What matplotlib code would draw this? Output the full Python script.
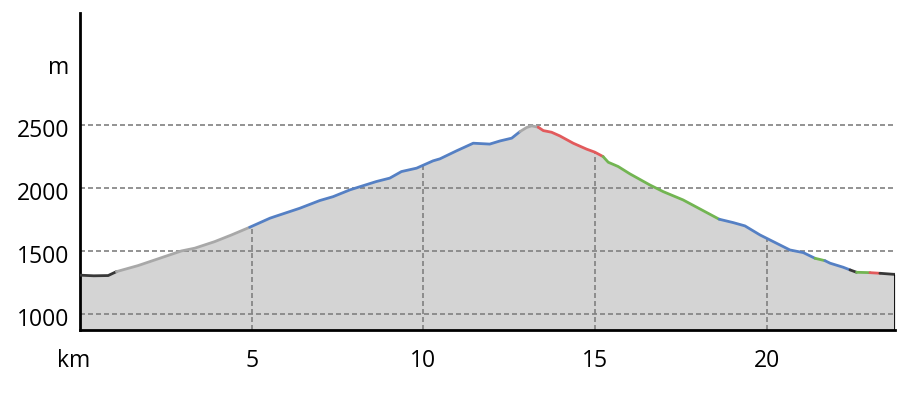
import numpy as np
import matplotlib
matplotlib.use("Agg")
import matplotlib.pyplot as plt
from matplotlib.transforms import ScaledTranslation

# ===== 高程剖面資料 (km / m) =====
km = [0.00, 0.40, 0.82, 1.06, 1.69, 2.95, 3.34, 3.92, 4.41, 4.94,
      5.53, 5.67, 6.40, 6.98, 7.37, 7.86, 8.63, 9.02, 9.36, 9.80,
      10.28, 10.48, 10.96, 11.45, 11.93, 12.23, 12.57, 12.81, 13.00, 13.15,
      13.34, 13.49, 13.73, 13.97, 14.36, 14.75, 14.99, 15.23, 15.38, 15.67,
      16.01, 16.59, 16.98, 17.56, 18.61, 19.02, 19.36, 19.80, 19.99, 20.67,
      21.06, 21.40, 21.69, 21.84, 22.22, 22.42, 22.61, 23.00, 23.29, 23.68, 23.73]
elev = [1310, 1305, 1307, 1338, 1386, 1502, 1524, 1576, 1629, 1690,
        1762, 1775, 1841, 1902, 1933, 1987, 2053, 2080, 2132, 2159,
        2217, 2233, 2296, 2357, 2350, 2375, 2397, 2449, 2481, 2495,
        2484, 2457, 2444, 2415, 2357, 2310, 2286, 2251, 2206, 2172,
        2114, 2026, 1973, 1907, 1754, 1727, 1701, 1629, 1603, 1510,
        1489, 1444, 1425, 1405, 1373, 1352, 1333, 1330, 1325, 1317, 1317]

# 路段分類 (起訖 km)
seg_bounds = [0.00, 1.06, 4.94, 12.81, 13.34, 15.23, 18.61, 21.40, 21.69, 22.42, 22.61, 23.00, 23.29, 23.73]
seg_kind = ["dark", "gray", "blue", "gray", "red", "green", "blue", "green", "blue", "dark", "green", "red", "dark"]

y_ticks = [1000, 1500, 2000, 2500]
x_ticks = [5, 10, 15, 20]

COLORS = {"dark": "#383838", "gray": "#a8a8a8", "blue": "#5580c4",
          "red": "#e25a5c", "green": "#72b552"}
FILL = "#d4d4d4"
GRIDC = "#808080"
DASH = (0, (3.0, 1.8))
YMIN, YMAX = 875, 3390

km = np.array(km); elev = np.array(elev)

fig = plt.figure(figsize=(9.23, 3.96), dpi=100)
ax = fig.add_axes([80/923, 66/396, 815/923, 317/396])
ax.set_xlim(0, km[-1]); ax.set_ylim(YMIN, YMAX)

ax.fill_between(km, elev, YMIN, color=FILL, lw=0, zorder=1)

# 格線: 水平全寬, 垂直只到剖面線
for t in y_ticks:
    ax.axhline(t, color=GRIDC, lw=1.2, ls=DASH, zorder=2)
for t in x_ticks:
    ax.vlines(t, YMIN, np.interp(t, km, elev), color=GRIDC, lw=1.2, ls=DASH, zorder=2)

for a, b, k in zip(seg_bounds[:-1], seg_bounds[1:], seg_kind):
    m = (km >= a - 1e-9) & (km <= b + 1e-9)
    ax.plot(km[m], elev[m], color=COLORS[k], lw=2.0, solid_capstyle="round", zorder=3)

ax.vlines(km[-1], YMIN, elev[-1], color="black", lw=2.0, zorder=4)

for s in ("top", "right"):
    ax.spines[s].set_visible(False)
for s in ("left", "bottom"):
    ax.spines[s].set_linewidth(2.0)
    ax.spines[s].set_color("black")
ax.set_xticks([]); ax.set_yticks([])

fnt = dict(family="Open Sans", fontsize=16.5, color="black")
ty = ax.get_yaxis_transform() + ScaledTranslation(-0.11, -0.055, fig.dpi_scale_trans)
for t in y_ticks:
    ax.text(0, t, str(t), transform=ty, ha="right", va="center", **fnt)
ax.text(0, 3000, "m", transform=ty, ha="right", va="center", **fnt)
tx = ax.get_xaxis_transform() + ScaledTranslation(0, -0.31, fig.dpi_scale_trans)
for t in x_ticks:
    ax.text(t, 0, str(t), transform=tx, ha="center", va="center", **fnt)
tk = ax.get_xaxis_transform() + ScaledTranslation(-0.06, -0.31, fig.dpi_scale_trans)
ax.text(0, 0, "km", transform=tk, ha="center", va="center", **fnt)

fig.savefig("out.png", dpi=100, facecolor="white")
